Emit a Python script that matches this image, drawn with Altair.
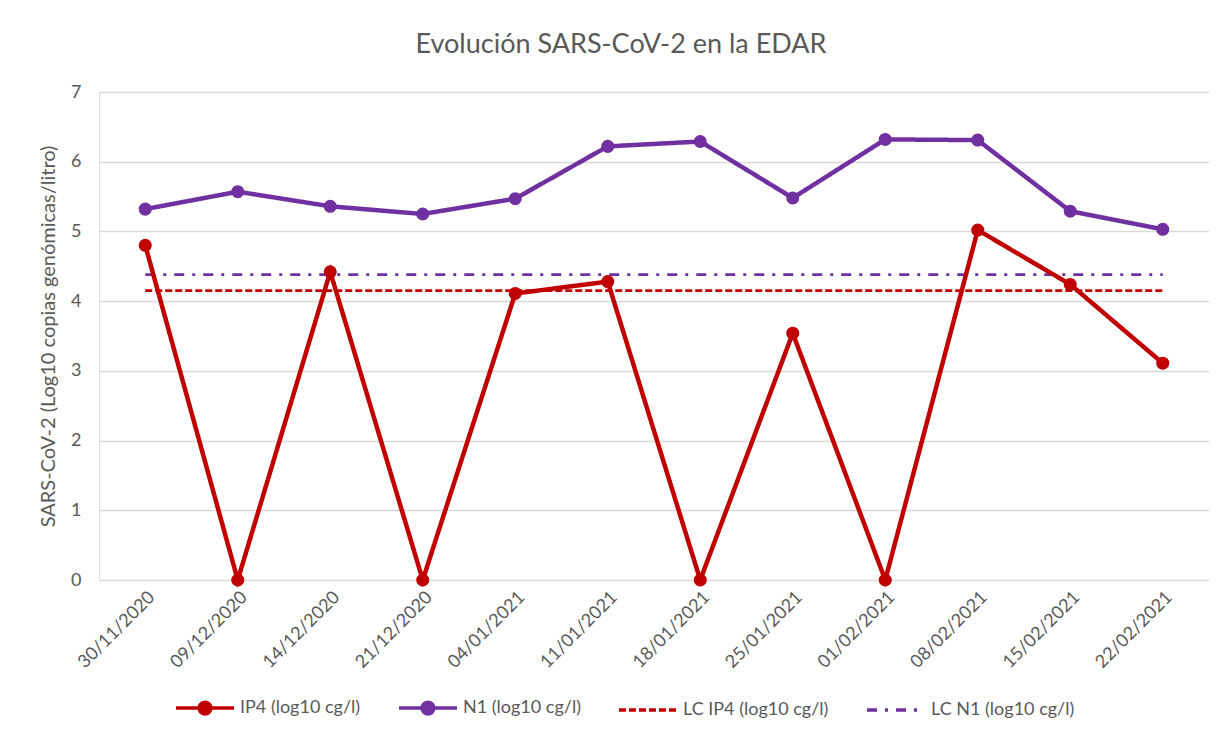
import altair as alt
import pandas as pd

dates = ["30/11/2020", "09/12/2020", "14/12/2020", "21/12/2020", "04/01/2021", "11/01/2021",
         "18/01/2021", "25/01/2021", "01/02/2021", "08/02/2021", "15/02/2021", "22/02/2021"]
ip4 = [4.80, 0.0, 4.42, 0.0, 4.11, 4.28, 0.0, 3.54, 0.0, 5.02, 4.24, 3.11]
n1 = [5.32, 5.57, 5.36, 5.25, 5.47, 6.22, 6.29, 5.48, 6.32, 6.31, 5.29, 5.03]
lc_ip4 = 4.15
lc_n1 = 4.38

series_names = ["IP4 (log10 cg/l)", "N1 (log10 cg/l)", "LC IP4 (log10 cg/l)", "LC N1 (log10 cg/l)"]
colors = ["#C00000", "#7030A0", "#C00000", "#7030A0"]
dashes = [[1, 0], [1, 0], [7, 3], [10, 8, 3, 8]]

rows = []
for i, d in enumerate(dates):
    rows.append({"fecha": d, "serie": series_names[0], "valor": ip4[i], "orden": i})
    rows.append({"fecha": d, "serie": series_names[1], "valor": n1[i], "orden": i})
    rows.append({"fecha": d, "serie": series_names[2], "valor": lc_ip4, "orden": i})
    rows.append({"fecha": d, "serie": series_names[3], "valor": lc_n1, "orden": i})
df = pd.DataFrame(rows)

FONT = "Lato"
GREY = "#595959"

dot_sym = "M-1,0L1,0M-0.2,0a0.2,0.2 0 1,0 0.4,0a0.2,0.2 0 1,0 -0.4,0"
line_sym = "M-1,0L1,0"

x_enc = alt.X("fecha:N", sort=dates, title=None,
              scale=alt.Scale(paddingInner=1, paddingOuter=0.5),
              axis=alt.Axis(labelAngle=-45, labelFontSize=18, labelColor=GREY, labelFont=FONT,
                            ticks=False, domain=False, grid=False, labelPadding=8))
y_enc = alt.Y("valor:Q", title="SARS-CoV-2 (Log10 copias genómicas/litro)",
              scale=alt.Scale(domain=[0, 7], nice=False),
              axis=alt.Axis(values=[0, 1, 2, 3, 4, 5, 6, 7], labelFontSize=18, labelColor=GREY,
                            labelFont=FONT, titleFont=FONT, titleFontSize=20, titleColor=GREY,
                            titleFontWeight="normal", ticks=False, domain=False,
                            gridColor="#D9D9D9", gridWidth=1.3, labelPadding=18, titlePadding=12))

legend = alt.Legend(orient="none", legendX=75, legendY=585, direction="horizontal",
                    columns=4, columnPadding=31, symbolSize=3364, symbolStrokeWidth=3.5,
                    labelFontSize=18, labelColor=GREY, labelFont=FONT,
                    labelOffset=4, labelLimit=300)
color_enc = alt.Color("serie:N", title=None,
                      scale=alt.Scale(domain=series_names, range=colors), legend=legend)
dash_enc = alt.StrokeDash("serie:N", title=None,
                          scale=alt.Scale(domain=series_names, range=dashes), legend=legend)
shape_enc = alt.Shape("serie:N", title=None,
                      scale=alt.Scale(domain=series_names, range=[dot_sym, dot_sym, line_sym, line_sym]),
                      legend=legend)

main = df[df["serie"].isin(series_names[:2])]
lc = df[df["serie"].isin(series_names[2:])]

lines = alt.Chart(main).mark_line(strokeWidth=4.5).encode(
    x=x_enc, y=y_enc, color=color_enc, strokeDash=dash_enc, order="orden:Q")
lc_lines = alt.Chart(lc).mark_line(strokeWidth=2.8).encode(
    x=x_enc, y=y_enc, color=color_enc, strokeDash=dash_enc, order="orden:Q")
points = alt.Chart(main).mark_point(filled=True, opacity=1, size=170, shape="circle").encode(
    x=x_enc, y=y_enc, color=alt.Color("serie:N", scale=alt.Scale(domain=series_names, range=colors),
                                      legend=None))
legend_layer = alt.Chart(main).transform_filter("datum.valor < -100").mark_point(
    filled=True, opacity=1).encode(x=x_enc, y=y_enc, color=color_enc, shape=shape_enc)

chart = alt.layer(lc_lines, lines, points, legend_layer).properties(
    width=1110, height=488,
    title=alt.TitleParams("Evolución SARS-CoV-2 en la EDAR", font=FONT, fontSize=27,
                          fontWeight="normal", color=GREY, anchor="middle", dx=-33, offset=24),
    padding={"left": 91, "top": 84, "right": 0, "bottom": 145},
    autosize=alt.AutoSizeParams(type="none"),
).configure_view(stroke=None).configure(font=FONT)

chart.save("out.html", embed_options={"renderer": "svg", "actions": False})
